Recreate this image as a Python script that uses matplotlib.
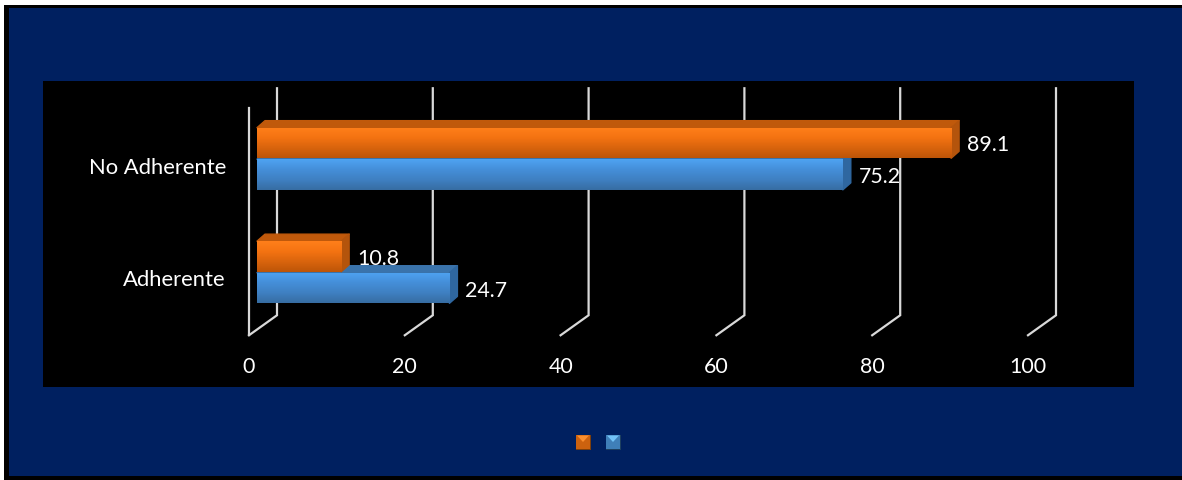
# horizontal 3d looking bars, office style, on a dark blue slide

import numpy as np
import matplotlib.pyplot as plt
from matplotlib.colors import LinearSegmentedColormap
from matplotlib.patches import Polygon, Rectangle

categories = ['Adherente', 'No Adherente']
orangeValues = [10.8, 89.1]
blueValues = [24.7, 75.2]
xTicks = [0, 20, 40, 60, 80, 100]

W, H = 1182, 481
navy = '#002060'
gridColor = '#d9d9d9'

plt.rcParams['font.family'] = ['Lato', 'DejaVu Sans']

fig = plt.figure(figsize=(W/100, H/100), dpi=100, facecolor='white')

# background layer in pixel units
bg = fig.add_axes([0, 0, 1, 1])
bg.set_xlim(0, W)
bg.set_ylim(H, 0)
bg.axis('off')
bg.add_patch(Rectangle((4, 6), W, H, facecolor='black', edgecolor='none'))
bg.add_patch(Rectangle((9, 9), W, 468, facecolor=navy, edgecolor='none'))


def legendKey(x, y, size, light, mid, dark):
    bg.add_patch(Rectangle((x, y), size, size, facecolor=dark, edgecolor='none'))
    bg.add_patch(Rectangle((x, y), size-1, size-1, facecolor=mid, edgecolor='none'))
    bg.add_patch(Polygon([(x+1, y+1), (x+size-2, y+1), (x+size/2-0.5, y+size/2)], facecolor=light, edgecolor='none'))


legendKey(576, 435.5, 15, '#fb8e2e', '#cc620f', '#7d3f0c')
legendKey(606, 435.5, 15, '#72c2f7', '#3f7fb8', '#1d3f5f')

# black plot panel
left, right, top, bottom = 43, 1134, 81.5, 387.5
ax = fig.add_axes([left/W, 1-bottom/H, (right-left)/W, (bottom-top)/H], facecolor='black')
xScale = 7.79
yScale = 113.5
xZero = 249
yZero = 279.5
xLim = ((left-xZero)/xScale, (right-xZero)/xScale)
yLim = ((yZero-bottom)/yScale, (yZero-top)/yScale)

# 3d offsets
wallDx = 28/xScale
wallDy = 20/yScale
floorY = -0.5
barStart = 8/xScale
barDx = 8/xScale
barDy = 7/yScale
barHeight = 0.27

orangeMap = LinearSegmentedColormap.from_list('o', ['#ff7f1a', '#f47312', '#d9640d', '#bd5508'])
blueMap = LinearSegmentedColormap.from_list('b', ['#4ea3f2', '#458fd9', '#3f80c2', '#376da3'])
grad = np.linspace(0, 1, 64).reshape(-1, 1)

# gridlines on the back wall and the floor
for t in xTicks:
    ax.plot([t, t+wallDx, t+wallDx], [floorY, floorY+wallDy, floorY+2+wallDy],
            color=gridColor, linewidth=1.6, zorder=1, solid_joinstyle='miter')
ax.plot([0, 0], [floorY, floorY+2], color=gridColor, linewidth=1.6, zorder=1)


def draw3dBars(ypos, values, cmap, topColor, sideColor, zorder):
    rects = ax.barh(ypos, values, barHeight, left=barStart, color='none', zorder=zorder)
    for rect, val in zip(rects, values):
        x0, y0 = rect.get_x(), rect.get_y()
        x1, y1 = x0+rect.get_width(), y0+rect.get_height()
        # round joins soften the corners like the office bevel
        ax.add_patch(Polygon([(x0, y1), (x0+barDx, y1+barDy), (x1+barDx, y1+barDy), (x1, y1)],
                             facecolor=topColor, edgecolor=topColor, linewidth=1, joinstyle='round', zorder=zorder))
        ax.add_patch(Polygon([(x1, y0), (x1+barDx, y0+barDy), (x1+barDx, y1+barDy), (x1, y1)],
                             facecolor=sideColor, edgecolor=sideColor, linewidth=1, joinstyle='round', zorder=zorder))
        img = ax.imshow(grad, extent=(x0, x1, y0, y1), cmap=cmap, aspect='auto', zorder=zorder+0.1)
        img.set_clip_path(rect)
        ax.text(x1+16/xScale, (y0+y1)/2-1.5/yScale, str(val), color='white', fontsize=15.4,
                ha='left', va='center', zorder=10)


ypos = np.arange(len(categories))
draw3dBars(ypos-0.084, blueValues, blueMap, '#3a73ab', '#2f67a0', 3)
draw3dBars(ypos+0.194, orangeValues, orangeMap, '#c0590b', '#b4540c', 4)

ax.set_xlim(xLim)
ax.set_ylim(yLim)
ax.set_xticks([])
ax.set_yticks([])
for s in ax.spines.values():
    s.set_visible(False)

for t in xTicks:
    ax.text(t, floorY-30.5/yScale, str(t), color='white', fontsize=15.4, ha='center', va='center')
ax.text(-23/xScale, ypos[0]-1/yScale, categories[0], color='white', fontsize=15.8, ha='right', va='center')
ax.text(-23/xScale, ypos[1]-2.5/yScale, categories[1], color='white', fontsize=15.8, ha='right', va='center')

fig.savefig('out.png', dpi=100, facecolor='white')
